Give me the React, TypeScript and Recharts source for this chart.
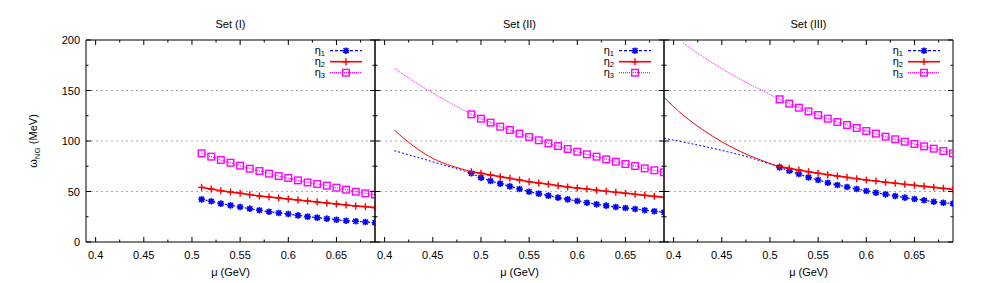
import React from 'react';
import { LineChart, Line, XAxis, YAxis, ReferenceLine } from 'recharts';

// mu grids (GeV)
const muPtsI = [0.51, 0.52, 0.53, 0.54, 0.55, 0.56, 0.57, 0.58, 0.59, 0.6, 0.61, 0.62, 0.63, 0.64, 0.65, 0.66, 0.67, 0.68, 0.69];
const muPtsII = [0.49, 0.5, 0.51, 0.52, 0.53, 0.54, 0.55, 0.56, 0.57, 0.58, 0.59, 0.6, 0.61, 0.62, 0.63, 0.64, 0.65, 0.66, 0.67, 0.68, 0.69];
const muPtsIII = [0.51, 0.52, 0.53, 0.54, 0.55, 0.56, 0.57, 0.58, 0.59, 0.6, 0.61, 0.62, 0.63, 0.64, 0.65, 0.66, 0.67, 0.68, 0.69];
const muCurveII = [0.41, 0.42, 0.43, 0.44, 0.45, 0.46, 0.47, 0.48, 0.49];
const muCurveIII = [0.39, 0.4, 0.41, 0.42, 0.43, 0.44, 0.45, 0.46, 0.47, 0.48, 0.49, 0.5, 0.51];
const muCurveIII3 = [0.41, 0.42, 0.43, 0.44, 0.45, 0.46, 0.47, 0.48, 0.49, 0.5, 0.51];

// Set (I)
const setI_eta1 = [42.2, 40.3, 38.0, 36.3, 34.7, 33.0, 31.4, 30.0, 28.7, 27.7, 26.4, 25.1, 24.1, 23.1, 22.1, 21.1, 20.5, 19.8, 19.1];
const setI_eta2 = [54.1, 52.5, 50.8, 49.5, 48.2, 46.9, 45.5, 44.6, 43.6, 42.6, 41.6, 40.6, 39.6, 38.6, 37.6, 36.6, 35.6, 35.0, 34.0];
const setI_eta3 = [87.8, 84.5, 81.2, 78.5, 75.6, 72.6, 70.3, 67.7, 65.3, 63.4, 61.0, 59.0, 57.4, 55.8, 53.8, 51.8, 49.8, 48.2, 46.9];

// Set (II)
const setII_eta1 = [68.0, 63.7, 60.4, 57.8, 55.1, 52.5, 49.8, 47.9, 45.9, 43.9, 42.2, 40.6, 38.9, 37.3, 36.0, 34.7, 33.7, 32.7, 31.4, 30.4, 29.4];
const setII_eta2 = [69.6, 68.0, 66.3, 64.7, 63.0, 61.4, 59.7, 58.4, 57.1, 55.8, 54.5, 53.5, 52.5, 51.2, 50.2, 49.2, 48.2, 47.2, 46.2, 45.2, 44.2];
const setII_eta3 = [126.4, 122.1, 118.2, 114.2, 110.9, 107.3, 104.0, 100.7, 97.7, 95.0, 92.1, 89.4, 86.8, 84.5, 81.8, 79.5, 77.2, 75.2, 72.9, 71.0, 69.0];
const setII_curve1 = [90.4, 87.7, 85.0, 82.2, 79.4, 76.6, 73.8, 71.0, 68.0];
const setII_curve2 = [110.9, 102.5, 95.0, 88.3, 82.8, 78.5, 75.2, 72.3, 69.6];
const setII_curve3 = [172.0, 165.5, 159.2, 153.2, 147.5, 142.0, 136.7, 131.5, 126.4];

// Set (III)
const setIII_eta1 = [73.9, 70.6, 67.3, 64.0, 61.4, 58.7, 56.4, 54.5, 52.5, 50.5, 48.8, 47.2, 45.5, 43.9, 42.6, 41.3, 39.9, 38.9, 38.0];
const setIII_eta2 = [74.6, 72.9, 71.3, 69.6, 68.0, 66.7, 65.3, 64.0, 62.7, 61.4, 60.4, 59.1, 58.1, 57.1, 56.1, 55.1, 54.1, 53.1, 52.1];
const setIII_eta3 = [141.3, 137.0, 133.0, 129.4, 125.7, 122.1, 118.8, 115.8, 112.9, 109.9, 107.3, 104.3, 101.7, 99.3, 97.0, 94.7, 92.4, 90.1, 87.8];
const setIII_curve1 = [102.8, 100.9, 99.0, 97.0, 95.0, 92.9, 90.7, 88.4, 86.0, 83.3, 80.3, 77.2, 73.9];
const setIII_curve2 = [143.3, 134.0, 125.5, 118.0, 111.2, 105.0, 99.2, 94.0, 89.3, 85.0, 81.3, 77.8, 74.6];
const setIII_curve3 = [197.0, 190.2, 183.7, 177.5, 171.6, 166.0, 160.7, 155.7, 151.0, 146.0, 141.3];

// axes
const xTicks = [0.4, 0.425, 0.45, 0.475, 0.5, 0.525, 0.55, 0.575, 0.6, 0.625, 0.65, 0.675];
const yTicks = [0, 25, 50, 75, 100, 125, 150, 175, 200];
const gridValues = [50, 100, 150];
const titles = ['Set (I)', 'Set (II)', 'Set (III)'];

const FONT = '"Liberation Sans", Arial, Helvetica, sans-serif';
const BLUE = '#0000ff';
const RED = '#ff0000';
const MAGENTA = '#ff00ff';
const PLOT_W = 289;

type Pt = { x: number; y: number };
const zip = (xs: number[], ys: number[]): Pt[] => xs.map((x, i) => ({ x, y: ys[i] }));

const isMajorX = (v: number) => Math.round(v * 1000) % 50 === 0;
const isMajorY = (v: number) => v % 50 === 0;

// markers
const starDot = (p: any) => {
  const { cx, cy, index } = p;
  if (cx == null || cy == null) return <g key={`s${index}`} />;
  const s = 3.3;
  const d = s * 0.75;
  return (
    <path
      key={`s${index}`}
      d={`M${cx - s},${cy}H${cx + s}M${cx},${cy - s}V${cy + s}M${cx - d},${cy - d}L${cx + d},${cy + d}M${cx - d},${cy + d}L${cx + d},${cy - d}`}
      stroke={BLUE}
      strokeWidth={1.6}
      fill="none"
    />
  );
};

const plusDot = (p: any) => {
  const { cx, cy, index } = p;
  if (cx == null || cy == null) return <g key={`p${index}`} />;
  const s = 3.5;
  return (
    <path key={`p${index}`} d={`M${cx - s},${cy}H${cx + s}M${cx},${cy - s}V${cy + s}`} stroke={RED} strokeWidth={1.4} fill="none" />
  );
};

const squareDot = (p: any) => {
  const { cx, cy, index } = p;
  if (cx == null || cy == null) return <g key={`q${index}`} />;
  const s = 3.3;
  return <rect key={`q${index}`} x={cx - s} y={cy - s} width={2 * s} height={2 * s} stroke={MAGENTA} strokeWidth={1.4} fill="none" />;
};

// ticks (gnuplot style, pointing inwards)
const leftTick = (showLabel: boolean) => (p: any) => {
  const { x, y, payload } = p;
  const major = isMajorY(payload.value);
  return (
    <g>
      <line x1={x} x2={x + (major ? 5 : 2.5)} y1={y} y2={y} stroke="#000" />
      {showLabel && major && (
        <text x={x - 6} y={y + 4} textAnchor="end" fontSize={11} fontFamily={FONT} fill="#000">
          {payload.value}
        </text>
      )}
    </g>
  );
};

const rightTick = (p: any) => {
  const { x, y, payload } = p;
  const major = isMajorY(payload.value);
  return <line x1={x} x2={x - (major ? 5 : 2.5)} y1={y} y2={y} stroke="#000" />;
};

const bottomTick = (p: any) => {
  const { x, y, payload } = p;
  const major = isMajorX(payload.value);
  return (
    <g>
      <line x1={x} x2={x} y1={y} y2={y - (major ? 5 : 2.5)} stroke="#000" />
      {major && (
        <text x={x} y={y + 17} textAnchor="middle" fontSize={11} fontFamily={FONT} fill="#000">
          {String(payload.value)}
        </text>
      )}
    </g>
  );
};

const topTick = (p: any) => {
  const { x, y, payload } = p;
  const major = isMajorX(payload.value);
  return <line x1={x} x2={x} y1={y} y2={y + (major ? 5 : 2.5)} stroke="#000" />;
};

const yLabel = (props: any) => {
  const vb = props.viewBox || { x: 0, y: 40, height: 202 };
  const cx = vb.x + 37;
  const cy = vb.y + vb.height / 2;
  return (
    <text transform={`translate(${cx},${cy}) rotate(-90)`} textAnchor="middle" fontSize={11} fontFamily={FONT} fill="#000">
      <tspan>ω</tspan>
      <tspan dy={3} fontSize={8}>NG</tspan>
      <tspan dy={-3}> (MeV)</tspan>
    </text>
  );
};

const LegendBox = () => {
  const rows = [
    { sub: '1', color: BLUE, dash: '3 2', w: 1.2, dot: starDot },
    { sub: '2', color: RED, dash: undefined, w: 1.6, dot: plusDot },
    { sub: '3', color: MAGENTA, dash: '1 1', w: 1.2, dot: squareDot },
  ];
  return (
    <svg width={90} height={36} style={{ position: 'absolute', top: 45, left: 0, overflow: 'visible' }}>
      {rows.map((r, i) => {
        const cy = 5.7 + 11 * i;
        return (
          <g key={r.sub}>
            <text x={36} y={cy + 3} textAnchor="end" fontSize={11} fontFamily={FONT} fill="#000">
              η<tspan dy={2} fontSize={7.5}>{r.sub}</tspan>
            </text>
            <line x1={41} x2={73} y1={cy} y2={cy} stroke={r.color} strokeWidth={r.w} strokeDasharray={r.dash} />
            {r.dot({ cx: 57, cy, index: 'leg' + i })}
          </g>
        );
      })}
    </svg>
  );
};

type PanelProps = {
  title: string;
  plotLeft: number;
  showYLabels: boolean;
  pts: [Pt[], Pt[], Pt[]];
  curves: [Pt[] | null, Pt[] | null, Pt[] | null];
};

const Panel = ({ title, plotLeft, showYLabels, pts, curves }: PanelProps) => {
  const yw = showYLabels ? 86 : 20;
  const width = yw + PLOT_W + 10;
  const styles = [
    { color: BLUE, dash: '2 2', w: 1.2, dot: starDot },
    { color: RED, dash: undefined, w: 1.6, dot: plusDot },
    { color: MAGENTA, dash: '1 1', w: 1.2, dot: squareDot },
  ];
  return (
    <div style={{ position: 'absolute', left: plotLeft - yw, top: 0, width, height: 283 }}>
      <LineChart width={width} height={283} margin={{ top: 30, right: 0, bottom: 11, left: 0 }}>
        <XAxis
          type="number"
          dataKey="x"
          domain={[0.39, 0.69]}
          allowDataOverflow
          ticks={xTicks}
          interval={0}
          tickSize={0}
          tickMargin={0}
          tick={bottomTick}
          height={30}
          stroke="#000"
          label={{ value: 'μ (GeV)', position: 'bottom', offset: -4, fontSize: 11, fontFamily: FONT, fill: '#000' }}
        />
        <XAxis
          xAxisId="t"
          orientation="top"
          type="number"
          dataKey="x"
          domain={[0.39, 0.69]}
          allowDataOverflow
          ticks={xTicks}
          interval={0}
          tickSize={0}
          tickMargin={0}
          tick={topTick}
          height={10}
          stroke="#000"
          label={{ value: title, position: 'top', offset: 2, fontSize: 11, fontFamily: FONT, fill: '#000' }}
        />
        <YAxis
          type="number"
          domain={[0, 200]}
          allowDataOverflow
          ticks={yTicks}
          interval={0}
          tickSize={0}
          tickMargin={0}
          tick={leftTick(showYLabels)}
          width={yw}
          stroke="#000"
          label={showYLabels ? { content: yLabel } : undefined}
        />
        <YAxis
          yAxisId="r"
          orientation="right"
          type="number"
          domain={[0, 200]}
          allowDataOverflow
          ticks={yTicks}
          interval={0}
          tickSize={0}
          tickMargin={0}
          tick={rightTick}
          width={10}
          stroke="#000"
        />
        {gridValues.map((v) => (
          <ReferenceLine key={v} y={v} stroke="#aaaaaa" strokeDasharray="2 3" strokeWidth={1} />
        ))}
        {curves.map((c, i) =>
          c ? (
            <Line
              key={`c${i}`}
              data={c}
              dataKey="y"
              type="monotone"
              stroke={styles[i].color}
              strokeWidth={1}
              strokeDasharray={styles[i].dash}
              dot={false}
              activeDot={false}
              isAnimationActive={false}
            />
          ) : null
        )}
        {pts.map((p, i) => (
          <Line
            key={`p${i}`}
            data={p}
            dataKey="y"
            type="linear"
            stroke={styles[i].color}
            strokeWidth={styles[i].w}
            strokeDasharray={styles[i].dash}
            dot={styles[i].dot}
            activeDot={false}
            isAnimationActive={false}
          />
        ))}
      </LineChart>
      <div style={{ position: 'absolute', left: yw + PLOT_W - 86, top: 0 }}>
        <LegendBox />
      </div>
    </div>
  );
};

export default function App() {
  return (
    <div style={{ position: 'absolute', left: 0, top: 0, width: 982, height: 283, background: '#fff', overflow: 'hidden' }}>
      <Panel
        title={titles[0]}
        plotLeft={86}
        showYLabels
        pts={[zip(muPtsI, setI_eta1), zip(muPtsI, setI_eta2), zip(muPtsI, setI_eta3)]}
        curves={[null, null, null]}
      />
      <Panel
        title={titles[1]}
        plotLeft={375}
        showYLabels={false}
        pts={[zip(muPtsII, setII_eta1), zip(muPtsII, setII_eta2), zip(muPtsII, setII_eta3)]}
        curves={[zip(muCurveII, setII_curve1), zip(muCurveII, setII_curve2), zip(muCurveII, setII_curve3)]}
      />
      <Panel
        title={titles[2]}
        plotLeft={664}
        showYLabels={false}
        pts={[zip(muPtsIII, setIII_eta1), zip(muPtsIII, setIII_eta2), zip(muPtsIII, setIII_eta3)]}
        curves={[zip(muCurveIII, setIII_curve1), zip(muCurveIII, setIII_curve2), zip(muCurveIII3, setIII_curve3)]}
      />
    </div>
  );
}
